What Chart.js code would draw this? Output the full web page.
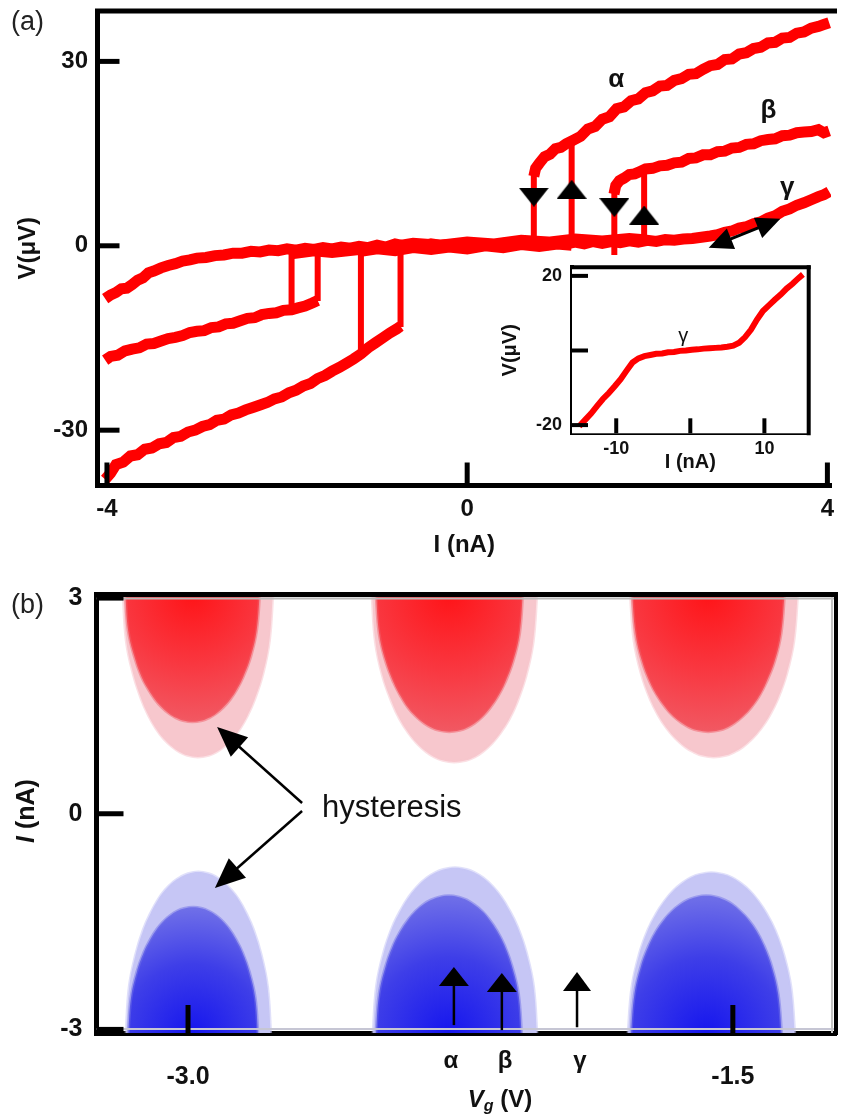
<!DOCTYPE html>
<html>
<head>
<meta charset="utf-8">
<title>Hysteresis I-V</title>
<script src="https://cdn.jsdelivr.net/npm/chart.js@4.4.1/dist/chart.umd.min.js"></script>
<style>
html,body{margin:0;padding:0;background:#fff;}
body{position:relative;width:842px;height:1117px;overflow:hidden;font-family:"Liberation Sans",Arial,sans-serif;}
canvas{position:absolute;display:block;}
.plabel{position:absolute;font-size:27px;line-height:1;color:#222;}
</style>
</head>
<body>
<canvas id="chartA" width="842" height="570" style="left:0;top:0"></canvas>
<canvas id="chartInset" width="360" height="230" style="left:470px;top:250px"></canvas>
<canvas id="chartB" width="842" height="547" style="left:0;top:570px"></canvas>
<div class="plabel" style="left:11px;top:8px">(a)</div>
<div class="plabel" style="left:11px;top:591px">(b)</div>
<script>
const FONT = '"Liberation Sans", Arial, Helvetica, sans-serif';
Chart.defaults.font.family = FONT;
Chart.defaults.color = '#111';

// ================= Panel (a) data =================
const aXTicks = [-4, 0, 4];
const aXLabels = ['-4', '0', '4'];
const aYTicks = [-30, 0, 30];
const aYLabels = ['-30', '0', '30'];

const gammaX = [-4.02,-3.96,-3.90,-3.84,-3.78,-3.72,-3.66,-3.60,-3.54,-3.48,-3.40,-3.32,-3.24,-3.16,-3.08,
  -3.00,-2.90,-2.80,-2.70,-2.60,-2.50,-2.40,-2.30,-2.20,-2.10,-2.00,-1.90,-1.80,-1.70,-1.60,-1.50,-1.40,-1.30,-1.20,-1.10,
  -1.00,-0.90,-0.80,-0.70,-0.60,-0.50,-0.40,-0.30,-0.20,-0.10,0.00,0.10,0.20,0.30,0.40,0.50,0.60,0.70,0.80,0.90,
  1.00,1.10,1.20,1.30,1.40,1.50,1.60,1.70,1.80,1.90,2.00,2.10,2.20,2.30,2.40,2.50,2.60,2.70,
  2.78,2.86,2.94,3.02,3.10,3.18,3.26,3.34,3.42,3.50,3.58,3.66,3.74,3.82,3.90,3.96,4.02];
const gammaY = [-8.6,-8.0,-7.6,-7.0,-6.9,-6.3,-5.6,-5.2,-4.4,-4.1,-3.6,-3.2,-2.9,-2.5,-2.3,
  -2.0,-1.9,-1.6,-1.5,-1.2,-1.2,-0.9,-1.0,-0.7,-0.8,-0.5,-0.7,-0.4,-0.6,-0.3,-0.5,-0.2,-0.4,-0.1,-0.3,
  0.1,-0.2,0.3,0.0,0.2,-0.1,0.3,0.1,0.2,-0.1,0.2,0.0,0.3,0.1,0.4,0.1,0.4,0.2,0.5,0.2,
  0.5,0.3,0.6,0.3,0.7,0.4,0.7,0.5,0.8,0.6,0.9,0.7,1.0,0.9,1.1,1.2,1.4,1.6,
  1.8,2.2,2.4,2.9,3.1,3.6,3.9,4.5,4.9,5.6,6.0,6.6,7.0,7.5,8.0,8.3,8.8];

const alphaUpX = [0.74,0.76,0.80,0.86,0.92,0.98,1.04,1.10,1.18,1.26,1.34,1.42,1.50,1.58,1.66,1.74,1.82,1.90,1.98,2.06,2.14,2.22,2.30,2.38,2.46,2.54,2.62,2.70,2.78,2.86,2.94,3.02,3.10,3.18,3.26,3.34,3.42,3.50,3.58,3.66,3.74,3.82,3.90,3.96,4.02];
const alphaUpY = [11.3,12.6,13.4,14.5,14.9,15.8,16.0,16.6,17.2,17.8,19.0,19.4,20.6,21.0,22.3,22.6,23.6,23.9,24.9,25.2,26.0,26.1,26.9,27.2,27.9,28.0,28.7,29.3,29.5,30.3,30.4,31.2,31.4,32.1,32.3,33.0,33.1,33.8,33.9,34.6,34.8,35.4,35.7,36.0,36.3];

const alphaNegX = [-4.02,-3.96,-3.90,-3.82,-3.74,-3.66,-3.58,-3.50,-3.42,-3.34,-3.26,-3.18,-3.10,-3.02,-2.94,-2.86,-2.78,-2.70,-2.62,-2.54,-2.46,-2.38,-2.30,-2.22,-2.14,-2.06,-1.98,-1.90,-1.82,-1.74,-1.66,-1.58,-1.50,-1.42,-1.34,-1.26,-1.18,-1.10,-1.02,-0.94,-0.86,-0.78,-0.74];
const alphaNegY = [-38.0,-37.0,-35.6,-35.2,-34.2,-34.0,-33.1,-32.9,-32.2,-32.0,-31.2,-31.0,-30.3,-30.0,-29.4,-29.1,-28.4,-28.2,-27.5,-27.2,-26.7,-26.3,-25.9,-25.5,-24.9,-24.6,-23.9,-23.5,-22.8,-22.4,-21.6,-21.1,-20.4,-19.8,-19.1,-18.4,-17.6,-16.6,-15.8,-15.0,-14.2,-13.5,-13.1];

const betaPosX = [1.63,1.65,1.69,1.74,1.80,1.86,1.92,1.98,2.06,2.14,2.22,2.30,2.38,2.46,2.54,2.62,2.70,2.78,2.86,2.94,3.02,3.10,3.18,3.26,3.34,3.42,3.50,3.58,3.66,3.74,3.82,3.90,3.96,4.02];
const betaPosY = [8.4,9.8,10.6,11.0,11.6,11.7,12.1,12.5,12.6,13.0,13.1,13.5,13.6,14.2,14.3,14.8,14.8,15.3,15.4,15.9,16.0,16.5,16.6,17.1,17.3,17.4,17.9,18.0,18.4,18.5,18.6,18.9,18.4,18.7];

const betaNegX = [-4.02,-3.96,-3.88,-3.80,-3.72,-3.64,-3.56,-3.48,-3.40,-3.32,-3.24,-3.16,-3.08,-3.00,-2.92,-2.84,-2.76,-2.68,-2.60,-2.52,-2.44,-2.36,-2.28,-2.20,-2.12,-2.04,-1.95,-1.88,-1.80,-1.72,-1.66];
const betaNegY = [-18.6,-18.0,-17.8,-17.1,-16.8,-16.6,-16.0,-15.9,-15.5,-15.1,-14.9,-14.6,-14.1,-13.9,-13.8,-13.3,-13.2,-12.7,-12.6,-12.2,-11.8,-11.7,-11.2,-11.0,-10.9,-10.5,-10.4,-10.1,-9.8,-9.3,-8.9];

const alphaBaseX = [-1.18,-1.00,-0.80,-0.60,-0.40,-0.20,0.00,0.20,0.40,0.60,0.80,1.00,1.16];
const alphaBaseY = [-0.9,-0.5,-0.8,-0.3,-0.6,-0.2,-0.5,0.0,-0.3,0.2,-0.1,0.3,0.1];
const betaBaseX = [-1.95,-1.70,-1.50,-1.20,-0.90,-0.60,-0.30,0.00,0.30,0.60,0.90,1.20,1.50,1.80,1.96];
const betaBaseY = [-1.3,-0.8,-1.1,-0.6,-0.3,0.4,0.1,0.6,0.3,0.9,0.6,1.1,0.8,1.2,1.0];

// switching jumps (vertical segments)
const jumpX  = [0.74, 1.16, 1.634, 1.965, -0.74, -1.18, -1.66, -1.95];
const jumpLo = [0.0, 0.2, -1.5, 0.3, -13.2, -17.6, -9.0, -10.6];
const jumpHi = [11.5, 17.2, 8.6, 12.4, 0.3, -0.5, -0.6, -0.8];

// sweep-direction markers
const markX = [0.74, 1.16, 1.634, 1.965];
const markY = [7.9, 9.2, 6.2, 5.0];
const markDir = ['down', 'up', 'down', 'up'];

// inset
const insTicksX = [-10, 0, 10];
const insLabelsX = ['-10', '', '10'];
const insTicksY = [-20, 0, 20];
const insLabelsY = ['-20', '', '20'];
const insetX = [-15.0,-14.2,-13.4,-12.6,-11.8,-11.0,-10.2,-9.4,-8.6,-7.8,-7.0,-6.2,-5.4,-4.6,-3.8,-3.0,-2.2,-1.4,-0.6,0.2,1.0,1.8,2.6,3.4,4.2,5.0,5.8,6.6,7.4,8.2,9.0,9.8,10.6,11.4,12.2,13.0,13.8,14.6,15.2];
const insetY = [-20.3,-18.6,-16.9,-14.9,-13.0,-11.4,-9.6,-7.7,-5.4,-3.2,-2.1,-1.5,-1.2,-0.9,-0.8,-0.5,-0.4,-0.1,0.0,0.2,0.3,0.5,0.6,0.7,0.8,1.0,1.3,2.1,3.6,5.6,8.3,10.6,12.1,13.6,15.0,16.6,17.9,19.4,20.4];

// ================= Panel (b) data =================
const bXTicks = [-3.0, -1.5];
const bXLabels = ['-3.0', '-1.5'];
const bYTicks = [-3, 0, 3];
const bYLabels = ['-3', '0', '3'];

const redOuter1 = [[-3.179,3.1],[-3.170,2.407],[-3.151,1.945],[-3.129,1.6],[-3.109,1.368],[-3.088,1.183],[-3.067,1.044],[-3.043,0.929],[-3.023,0.859],[-3.002,0.813],[-2.973,0.79],[-2.943,0.813],[-2.922,0.859],[-2.902,0.929],[-2.878,1.044],[-2.857,1.183],[-2.836,1.368],[-2.816,1.6],[-2.794,1.945],[-2.776,2.407],[-2.766,3.1]];
const redInner1 = [[-3.173,3.1],[-3.165,2.554],[-3.148,2.19],[-3.129,1.917],[-3.110,1.735],[-3.091,1.589],[-3.072,1.48],[-3.051,1.389],[-3.033,1.335],[-3.014,1.298],[-2.988,1.28],[-2.961,1.298],[-2.942,1.335],[-2.924,1.389],[-2.903,1.48],[-2.884,1.589],[-2.865,1.735],[-2.847,1.917],[-2.827,2.19],[-2.811,2.554],[-2.802,3.1]];
const redOuter2 = [[-2.494,3.1],[-2.484,2.386],[-2.464,1.91],[-2.439,1.553],[-2.417,1.315],[-2.393,1.125],[-2.370,0.982],[-2.344,0.863],[-2.322,0.791],[-2.299,0.744],[-2.267,0.72],[-2.234,0.744],[-2.211,0.791],[-2.189,0.863],[-2.163,0.982],[-2.140,1.125],[-2.116,1.315],[-2.094,1.553],[-2.070,1.91],[-2.050,2.386],[-2.039,3.1]];
const redInner2 = [[-2.483,3.1],[-2.474,2.512],[-2.456,2.12],[-2.434,1.826],[-2.414,1.63],[-2.394,1.473],[-2.373,1.356],[-2.350,1.258],[-2.330,1.199],[-2.309,1.16],[-2.281,1.14],[-2.252,1.16],[-2.231,1.199],[-2.211,1.258],[-2.188,1.356],[-2.168,1.473],[-2.147,1.63],[-2.127,1.826],[-2.105,2.12],[-2.087,2.512],[-2.078,3.1]];
const redOuter3 = [[-1.783,3.1],[-1.772,2.407],[-1.752,1.945],[-1.728,1.6],[-1.705,1.368],[-1.681,1.183],[-1.657,1.044],[-1.631,0.929],[-1.608,0.859],[-1.585,0.813],[-1.552,0.79],[-1.519,0.813],[-1.496,0.859],[-1.473,0.929],[-1.447,1.044],[-1.423,1.183],[-1.399,1.368],[-1.376,1.6],[-1.352,1.945],[-1.332,2.407],[-1.321,3.1]];
const redInner3 = [[-1.778,3.1],[-1.768,2.512],[-1.750,2.12],[-1.728,1.826],[-1.707,1.63],[-1.685,1.473],[-1.664,1.356],[-1.639,1.258],[-1.619,1.199],[-1.597,1.16],[-1.568,1.14],[-1.538,1.16],[-1.516,1.199],[-1.496,1.258],[-1.472,1.356],[-1.450,1.473],[-1.428,1.63],[-1.408,1.826],[-1.385,2.12],[-1.367,2.512],[-1.357,3.1]];

const blueOuter1 = [[-3.171,-3.1],[-3.162,-2.413],[-3.144,-1.955],[-3.123,-1.612],[-3.103,-1.383],[-3.083,-1.199],[-3.063,-1.062],[-3.040,-0.947],[-3.020,-0.879],[-3.000,-0.833],[-2.972,-0.81],[-2.943,-0.833],[-2.923,-0.879],[-2.904,-0.947],[-2.881,-1.062],[-2.860,-1.199],[-2.840,-1.383],[-2.820,-1.612],[-2.799,-1.955],[-2.781,-2.413],[-2.772,-3.1]];
const blueInner1 = [[-3.165,-3.1],[-3.157,-2.56],[-3.141,-2.2],[-3.122,-1.93],[-3.104,-1.75],[-3.086,-1.606],[-3.068,-1.498],[-3.047,-1.408],[-3.030,-1.354],[-3.011,-1.318],[-2.986,-1.30],[-2.961,-1.318],[-2.943,-1.354],[-2.925,-1.408],[-2.904,-1.498],[-2.886,-1.606],[-2.868,-1.75],[-2.850,-1.93],[-2.831,-2.2],[-2.815,-2.56],[-2.807,-3.1]];
const blueOuter2 = [[-2.491,-3.1],[-2.481,-2.395],[-2.461,-1.925],[-2.437,-1.573],[-2.414,-1.338],[-2.391,-1.15],[-2.368,-1.009],[-2.342,-0.891],[-2.320,-0.821],[-2.297,-0.774],[-2.265,-0.75],[-2.233,-0.774],[-2.210,-0.821],[-2.188,-0.891],[-2.162,-1.009],[-2.139,-1.15],[-2.116,-1.338],[-2.093,-1.573],[-2.069,-1.925],[-2.049,-2.395],[-2.039,-3.1]];
const blueInner2 = [[-2.483,-3.1],[-2.474,-2.512],[-2.456,-2.12],[-2.435,-1.826],[-2.415,-1.63],[-2.394,-1.473],[-2.374,-1.356],[-2.351,-1.258],[-2.331,-1.199],[-2.310,-1.16],[-2.282,-1.14],[-2.254,-1.16],[-2.233,-1.199],[-2.214,-1.258],[-2.190,-1.356],[-2.170,-1.473],[-2.149,-1.63],[-2.129,-1.826],[-2.108,-2.12],[-2.090,-2.512],[-2.081,-3.1]];
const blueOuter3 = [[-1.789,-3.1],[-1.778,-2.416],[-1.758,-1.96],[-1.734,-1.618],[-1.711,-1.39],[-1.687,-1.208],[-1.664,-1.071],[-1.637,-0.957],[-1.615,-0.888],[-1.591,-0.843],[-1.559,-0.82],[-1.527,-0.843],[-1.503,-0.888],[-1.481,-0.957],[-1.454,-1.071],[-1.431,-1.208],[-1.407,-1.39],[-1.384,-1.618],[-1.360,-1.96],[-1.340,-2.416],[-1.329,-3.1]];
const blueInner3 = [[-1.781,-3.1],[-1.771,-2.512],[-1.753,-2.12],[-1.731,-1.826],[-1.711,-1.63],[-1.689,-1.473],[-1.668,-1.356],[-1.644,-1.258],[-1.624,-1.199],[-1.602,-1.16],[-1.573,-1.14],[-1.544,-1.16],[-1.523,-1.199],[-1.502,-1.258],[-1.479,-1.356],[-1.457,-1.473],[-1.435,-1.63],[-1.415,-1.826],[-1.393,-2.12],[-1.375,-2.512],[-1.365,-3.1]];

// ================= helpers =================
const pts = (xs, ys) => xs.map((x, i) => ({x: x, y: ys[i]}));
const pairs = arr => arr.map(p => ({x: p[0], y: p[1]}));
const F = (s, w, st) => (st ? st + ' ' : '') + (w ? w + ' ' : '') + s + 'px ' + FONT;

function axis(o) {
  return {
    type: 'linear', min: o.min, max: o.max,
    afterBuildTicks: s => { s.ticks = o.ticks.map(v => ({value: v})); },
    afterFit: s => {
      if (o.width != null) s.width = o.width;
      if (o.height != null) s.height = o.height;
      s.paddingLeft = 0; s.paddingRight = 0; s.paddingTop = 0; s.paddingBottom = 0;
    },
    grid: {display: false, drawTicks: false},
    border: {display: true, width: o.bw, color: '#000'},
    ticks: {autoSkip: false, maxRotation: 0, minRotation: 0, padding: o.pad,
      font: {size: o.fs, weight: 'bold'}, color: '#111',
      callback: (v, i) => o.labels[i]},
    title: o.title || {display: false}
  };
}

function seg(ctx, x1, y1, x2, y2, w, c) {
  ctx.beginPath(); ctx.moveTo(x1, y1); ctx.lineTo(x2, y2);
  ctx.lineWidth = w; ctx.strokeStyle = c; ctx.lineCap = 'butt'; ctx.stroke();
}
function head(ctx, x1, y1, x2, y2, len, wid) {
  const a = Math.atan2(y2 - y1, x2 - x1);
  const bx = x2 - Math.cos(a) * len, by = y2 - Math.sin(a) * len;
  const nx = -Math.sin(a) * wid / 2, ny = Math.cos(a) * wid / 2;
  ctx.beginPath(); ctx.moveTo(x2, y2); ctx.lineTo(bx + nx, by + ny); ctx.lineTo(bx - nx, by - ny);
  ctx.closePath(); ctx.fill();
}
function arrow(ctx, p1, p2, o) {
  const a = Math.atan2(p2.y - p1.y, p2.x - p1.x);
  const k = o.len * 0.8;
  let sx = p1.x, sy = p1.y;
  if (o.both) { sx += Math.cos(a) * k; sy += Math.sin(a) * k; }
  const ex = p2.x - Math.cos(a) * k, ey = p2.y - Math.sin(a) * k;
  seg(ctx, sx, sy, ex, ey, o.w, '#000');
  ctx.fillStyle = '#000';
  head(ctx, p1.x, p1.y, p2.x, p2.y, o.len, o.wid);
  if (o.both) head(ctx, p2.x, p2.y, p1.x, p1.y, o.len, o.wid);
}
function rich(ctx, r) {
  ctx.save(); ctx.translate(r.x, r.y); if (r.rot) ctx.rotate(r.rot);
  let w = 0;
  r.parts.forEach(p => { ctx.font = p.font; p.w = ctx.measureText(p.t).width; w += p.w; });
  let x = -w / 2;
  ctx.textBaseline = 'middle'; ctx.textAlign = 'left'; ctx.fillStyle = '#111';
  r.parts.forEach(p => { ctx.font = p.font; ctx.fillText(p.t, x, p.dy || 0); x += p.w; });
  ctx.restore();
}

const deco = {
  id: 'deco',
  beforeDatasetsDraw(chart, args, o) {
    if (o.bg) {
      const a = chart.chartArea, ctx = chart.ctx;
      ctx.save(); ctx.fillStyle = o.bg; ctx.fillRect(a.left, a.top, a.right - a.left, a.bottom - a.top); ctx.restore();
    }
  },
  afterDraw(chart, args, o) {
    const ctx = chart.ctx, a = chart.chartArea, xs = chart.scales.x, ys = chart.scales.y;
    const X = v => xs.getPixelForValue(v), Y = v => ys.getPixelForValue(v);
    ctx.save();
    (o.inner || []).forEach(l => seg(ctx, l[0](a), l[1](a), l[2](a), l[3](a), l[4], l[5]));
    if (o.top) seg(ctx, a.left - o.top.l, a.top, a.right + o.top.r, a.top, o.top.w, '#000');
    if (o.right) seg(ctx, a.right, a.top - 2, a.right, a.bottom + 2, o.right.w, '#000');
    ys.ticks.forEach(t => seg(ctx, a.left, Y(t.value), a.left + o.ytl, Y(t.value), o.tw, '#000'));
    xs.ticks.forEach(t => seg(ctx, X(t.value), a.bottom, X(t.value), a.bottom - o.xtl, o.tw, '#000'));
    (o.arrows || []).forEach(r => arrow(ctx, {x: X(r.x1), y: Y(r.y1)}, {x: X(r.x2), y: Y(r.y2)}, r));
    (o.texts || []).forEach(t => {
      ctx.font = t.font; ctx.fillStyle = '#111'; ctx.textAlign = t.align || 'center'; ctx.textBaseline = 'alphabetic';
      ctx.fillText(t.t, X(t.x), Y(t.y));
    });
    (o.rich || []).forEach(r => rich(ctx, r));
    ctx.restore();
  }
};

function triCanvas(down) {
  const c = document.createElement('canvas'); c.width = 30; c.height = 19;
  const g = c.getContext('2d'); g.fillStyle = '#000'; g.beginPath();
  if (down) { g.moveTo(0, 0); g.lineTo(30, 0); g.lineTo(15, 19); }
  else { g.moveTo(15, 0); g.lineTo(30, 19); g.lineTo(0, 19); }
  g.closePath(); g.fill(); return c;
}
const triDown = triCanvas(true), triUp = triCanvas(false);

const RED = 'rgb(255,0,0)';
function curve(data, w) {
  return {data: data, showLine: true, borderColor: RED, backgroundColor: RED, borderWidth: w,
    pointRadius: 0, fill: false, tension: 0, order: 2, borderJoinStyle: 'miter'};
}

// ================= Chart (a) =================
const dsA = [
  curve(pts(gammaX, gammaY), 11),
  curve(pts(alphaBaseX, alphaBaseY), 11),
  curve(pts(betaBaseX, betaBaseY), 11),
  curve(pts(alphaUpX, alphaUpY), 11),
  curve(pts(alphaNegX, alphaNegY), 11),
  curve(pts(betaPosX, betaPosY), 11),
  curve(pts(betaNegX, betaNegY), 11)
];
jumpX.forEach((x, i) => dsA.push(curve([{x: x, y: jumpLo[i]}, {x: x, y: jumpHi[i]}], 6)));
dsA.push({data: pts(markX, markY), showLine: false, pointRadius: 10,
  pointStyle: markDir.map(d => d === 'down' ? triDown : triUp), order: 1});

new Chart(document.getElementById('chartA'), {
  type: 'scatter',
  data: {datasets: dsA},
  options: {
    responsive: false, animation: false, devicePixelRatio: 1,
    layout: {padding: {left: 0, right: 6, top: 9.5, bottom: 0}},
    plugins: {
      legend: {display: false}, tooltip: {enabled: false},
      deco: {
        top: {w: 5, l: 2.5, r: 6}, ytl: 22, xtl: 23, tw: 5,
        arrows: [{x1: 2.682, y1: -0.32, x2: 3.477, y2: 4.38, both: true, len: 24, wid: 22, w: 3}],
        texts: [
          {t: 'α', x: 1.656, y: 25.9, font: F(26, 'bold')},
          {t: 'β', x: 3.344, y: 20.8, font: F(26, 'bold')},
          {t: 'γ', x: 3.554, y: 8.3, font: F(26, 'bold')}
        ]
      }
    },
    scales: {
      x: axis({min: -4.105, max: 4.04, ticks: aXTicks, labels: aXLabels, height: 84.5, bw: 5, pad: 9.6, fs: 24,
        title: {display: true, text: 'I (nA)', color: '#111', font: {size: 24, weight: 'bold'}, padding: {top: 0, bottom: 10.6}}}),
      y: axis({min: -39.0, max: 38.2, ticks: aYTicks, labels: aYLabels, width: 97.5, bw: 5, pad: 9.5, fs: 24,
        title: {display: true, text: 'V(μV)', color: '#111', font: {size: 24, weight: 'bold'}, padding: {top: 13.6, bottom: 0}}})
    }
  },
  plugins: [deco]
});

// ================= Inset =================
new Chart(document.getElementById('chartInset'), {
  type: 'scatter',
  data: {datasets: [{data: pts(insetX, insetY), showLine: true, borderColor: RED, borderWidth: 6, pointRadius: 0, tension: 0}]},
  options: {
    responsive: false, animation: false, devicePixelRatio: 1,
    layout: {padding: {left: 0, right: 21.3, top: 17.3, bottom: 0}},
    plugins: {
      legend: {display: false}, tooltip: {enabled: false},
      deco: {
        bg: '#fff', top: {w: 4, l: 2, r: 2}, right: {w: 4}, ytl: 16, xtl: 15, tw: 4,
        texts: [{t: 'γ', x: -0.96, y: 2.2, font: F(20)}]
      }
    },
    scales: {
      x: axis({min: -15.97, max: 15.98, ticks: insTicksX, labels: insLabelsX, height: 46.7, bw: 4, pad: 5.4, fs: 18,
        title: {display: true, text: 'I (nA)', color: '#111', font: {size: 20, weight: 'bold'}, padding: {top: 0, bottom: 5.5}}}),
      y: axis({min: -22.2, max: 22.3, ticks: insTicksY, labels: insLabelsY, width: 102, bw: 4, pad: 10, fs: 18,
        title: {display: true, text: 'V(μV)', color: '#111', font: {size: 20, weight: 'bold'}, padding: {top: 28, bottom: 0}}})
    }
  },
  plugins: [deco]
});

// ================= Chart (b) =================
function blobColor(kind) {
  return (c) => {
    const chart = c.chart, a = chart.chartArea;
    if (kind === 'redL') return 'rgb(247,199,205)';
    if (kind === 'blueL') return 'rgb(198,198,245)';
    if (!a) return 'rgba(0,0,0,0)';
    const data = c.dataset.data;
    const xs = chart.scales.x, ys = chart.scales.y;
    let vmin = Infinity, vmax = -Infinity, imin = Infinity, imax = -Infinity;
    data.forEach(p => { vmin = Math.min(vmin, p.x); vmax = Math.max(vmax, p.x); imin = Math.min(imin, p.y); imax = Math.max(imax, p.y); });
    const cx = (xs.getPixelForValue(vmin) + xs.getPixelForValue(vmax)) / 2;
    const red = kind === 'redD';
    const by = red ? a.top : a.bottom;
    const ey = ys.getPixelForValue(red ? imin : imax);
    const r = Math.abs(ey - by);
    const g = chart.ctx.createRadialGradient(cx, by, 0, cx, by, r);
    if (red) { g.addColorStop(0, 'rgb(255,20,24)'); g.addColorStop(0.55, 'rgb(249,55,64)'); g.addColorStop(1, 'rgb(241,88,98)'); }
    else { g.addColorStop(0, 'rgb(22,22,238)'); g.addColorStop(0.55, 'rgb(62,62,232)'); g.addColorStop(1, 'rgb(112,112,232)'); }
    return g;
  };
}
const blobEdge = {redL: 'rgba(247,199,205,0.55)', blueL: 'rgba(198,198,245,0.55)', redD: 'rgba(241,95,105,0.5)', blueD: 'rgba(112,112,232,0.5)'};
function blob(arr, kind, order) {
  return {data: pairs(arr), showLine: true, fill: 'shape', borderWidth: 3, pointRadius: 0,
    tension: 0.4, backgroundColor: blobColor(kind), borderColor: blobEdge[kind], order: order};
}
const dsB = [
  blob(redInner1, 'redD', 1), blob(redInner2, 'redD', 1), blob(redInner3, 'redD', 1),
  blob(blueInner1, 'blueD', 1), blob(blueInner2, 'blueD', 1), blob(blueInner3, 'blueD', 1),
  blob(redOuter1, 'redL', 2), blob(redOuter2, 'redL', 2), blob(redOuter3, 'redL', 2),
  blob(blueOuter1, 'blueL', 2), blob(blueOuter2, 'blueL', 2), blob(blueOuter3, 'blueL', 2)
];

new Chart(document.getElementById('chartB'), {
  type: 'scatter',
  data: {datasets: dsB},
  options: {
    responsive: false, animation: false, devicePixelRatio: 1,
    layout: {padding: {left: 0, right: 6, top: 24.5, bottom: 0}},
    plugins: {
      legend: {display: false}, tooltip: {enabled: false},
      deco: {
        inner: [
          [a => a.left, a => a.top + 4, a => a.right, a => a.top + 4, 2, '#b9b9b9'],
          [a => a.left, a => a.bottom - 4, a => a.right, a => a.bottom - 4, 2, '#c6c6d4'],
          [a => a.right - 4, a => a.top, a => a.right - 4, a => a.bottom, 2, '#c4c4c4']
        ],
        top: {w: 5, l: 2.5, r: 2}, right: {w: 4}, ytl: 27, xtl: 28, tw: 5,
        arrows: [
          {x1: -2.686, y1: 0.150, x2: -2.920, y2: 1.206, len: 30, wid: 26, w: 2.5},
          {x1: -2.686, y1: 0.038, x2: -2.926, y2: -1.032, len: 30, wid: 26, w: 2.5},
          {x1: -2.268, y1: -2.94, x2: -2.268, y2: -2.132, len: 19, wid: 30, w: 2.5},
          {x1: -2.136, y1: -3.01, x2: -2.136, y2: -2.216, len: 19, wid: 30, w: 2.5},
          {x1: -1.929, y1: -2.97, x2: -1.929, y2: -2.202, len: 19, wid: 28, w: 2.5}
        ],
        texts: [
          {t: 'hysteresis', x: -2.631, y: -0.045, align: 'left', font: F(31)},
          {t: 'α', x: -2.276, y: -3.536, font: F(24, 'bold')},
          {t: 'β', x: -2.127, y: -3.536, font: F(24, 'bold')},
          {t: 'γ', x: -1.921, y: -3.536, font: F(24, 'bold')}
        ],
        rich: [
          {x: 27, y: 241, rot: -Math.PI / 2, parts: [{t: 'I', font: F(25, 'bold', 'italic')}, {t: ' (nA)', font: F(25, 'bold')}]},
          {x: 500, y: 530, parts: [{t: 'V', font: F(24, 'bold', 'italic')}, {t: 'g', font: F(16, 'bold', 'italic'), dy: 7}, {t: ' (V)', font: F(24, 'bold')}]}
        ]
      }
    },
    scales: {
      x: axis({min: -3.252, max: -1.216, ticks: bXTicks, labels: bXLabels, height: 84, bw: 5, pad: 29, fs: 25}),
      y: axis({min: -3.05, max: 3.05, ticks: bYTicks, labels: bYLabels, width: 96.5, bw: 5, pad: 14, fs: 25})
    }
  },
  plugins: [deco]
});
</script>
</body>
</html>
